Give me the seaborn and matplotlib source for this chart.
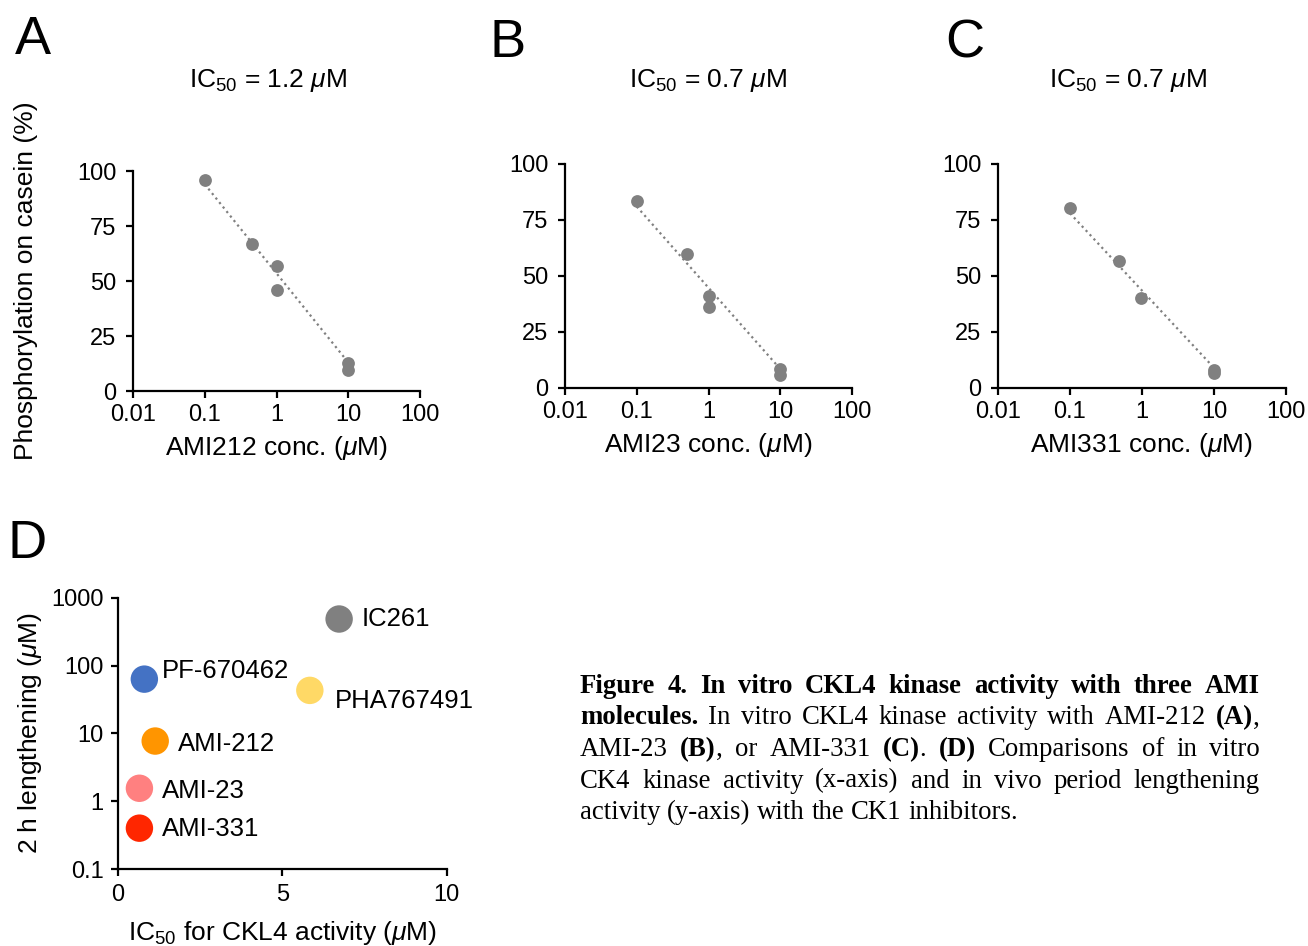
import numpy as np
import pandas as pd
import matplotlib
matplotlib.use("Agg")
import matplotlib.pyplot as plt
from matplotlib.ticker import NullLocator
import seaborn as sns

# ---------------- data ----------------
conc_A = [0.1, 0.46, 1, 1, 10, 10]
phos_A = [96, 67, 57, 46, 12.6, 9.5]
conc_B = [0.1, 0.5, 1, 1, 10, 10]
phos_B = [83.7, 59.9, 41, 36, 8.7, 6.0]
conc_C = [0.1, 0.48, 0.97, 10, 10]
phos_C = [80.5, 56.6, 40, 8.2, 6.7]
trend_x = [0.1, 10]
trend_A = [94, 13]
trend_B = [81, 8.5]
trend_C = [78, 9]
ic50_values = ["1.2", "0.7", "0.7"]
compounds = ["AMI212", "AMI23", "AMI331"]
panel_letters = ["A", "B", "C", "D"]
conc_ticks = [0.01, 0.1, 1, 10, 100]
conc_tick_labels = ["0.01", "0.1", "1", "10", "100"]
phos_ticks = [0, 25, 50, 75, 100]

inhibitors = ["IC261", "PF-670462", "PHA767491", "AMI-212", "AMI-23", "AMI-331"]
ic50_ckl4 = [6.73, 0.81, 5.84, 1.14, 0.66, 0.66]
lengthening = [485, 63, 43, 7.7, 1.55, 0.40]
inhibitor_colors = ["#808080", "#4472C4", "#FFD966", "#FF9500", "#FF8080", "#FF2600"]
d_yticks = [0.1, 1, 10, 100, 1000]
d_ytick_labels = ["0.1", "1", "10", "100", "1000"]
d_xticks = [0, 5, 10]

caption_lines = [
    "*Figure* *4.* *In* *vitro* *CKL4* *kinase* *activity* *with* *three* *AMI*",
    "*molecules.* In vitro CKL4 kinase activity with AMI-212 *(A)*,",
    "AMI-23 *(B)*, or AMI-331 *(C)*. *(D)* Comparisons of in vitro",
    "CK4 kinase activity (x-axis) and in vivo period lengthening",
    "activity (y-axis) with the CK1 inhibitors.",
]

# ---------------- style ----------------
sns.set_theme(style="ticks")
plt.rcParams["font.family"] = ["Liberation Sans", "DejaVu Sans"]
plt.rcParams["mathtext.fontset"] = "custom"
plt.rcParams["mathtext.rm"] = "Liberation Sans"
plt.rcParams["mathtext.it"] = "Liberation Sans:italic"
plt.rcParams["mathtext.bf"] = "Liberation Sans:bold"
plt.rcParams["text.color"] = "black"
plt.rcParams["axes.labelcolor"] = "black"
plt.rcParams["xtick.color"] = "black"
plt.rcParams["ytick.color"] = "black"

W, H = 1308, 946
fig = plt.figure(figsize=(W / 100, H / 100), dpi=100)
fig.patch.set_facecolor("white")

TICK = 17
LABEL = 19
GRAY = "#808080"


def ax_at(l, t, r, b):
    return fig.add_axes([l / W, 1 - b / H, (r - l) / W, (b - t) / H])


def style_ax(ax):
    for s in ["top", "right"]:
        ax.spines[s].set_visible(False)
    for s in ["left", "bottom"]:
        ax.spines[s].set_linewidth(1.6)
        ax.spines[s].set_color("black")
    ax.tick_params(axis="both", which="major", direction="out", length=5,
                   width=1.6, color="black", labelsize=TICK, labelcolor="black")
    ax.tick_params(axis="x", pad=4)
    ax.tick_params(axis="y", pad=7)
    ax.set_facecolor("white")
    ax.grid(False)


boxes = [(133, 171, 420, 391), (565, 164, 852, 388), (998, 164, 1286, 388)]
concs = [conc_A, conc_B, conc_C]
phos = [phos_A, phos_B, phos_C]
trends = [trend_A, trend_B, trend_C]
title_x = [268, 708, 1128]
letter_pos = [(15, 54), (490, 57), (945, 57)]

for i in range(3):
    ax = ax_at(*boxes[i])
    style_ax(ax)
    sns.lineplot(x=trend_x, y=trends[i], ax=ax, color=GRAY, linewidth=1.6,
                 linestyle=(0, (1, 1.6)), zorder=2)
    sns.scatterplot(x=concs[i], y=phos[i], ax=ax, color=GRAY, s=85,
                    linewidth=0, zorder=3, clip_on=False)
    ax.set_xscale("log")
    ax.set_xlim(0.01, 100)
    ax.set_ylim(0, 100)
    ax.set_xticks(conc_ticks)
    ax.set_xticklabels(conc_tick_labels)
    ax.xaxis.set_minor_locator(NullLocator())
    ax.set_yticks(phos_ticks)
    ax.set_yticklabels([str(v) for v in phos_ticks])
    ax.set_xlabel(compounds[i] + r" conc. ($\mu$M)", fontsize=LABEL, labelpad=6)
    if i == 0:
        ax.set_ylabel("Phosphorylation on casein (%)", fontsize=LABEL, labelpad=28)
    else:
        ax.set_ylabel("")
    fig.text(title_x[i] / W, 1 - 87 / H, r"IC$_{50}$ = " + ic50_values[i] + r" $\mu$M",
             fontsize=LABEL, ha="center", va="baseline")
    lx, ly = letter_pos[i]
    fig.text(lx / W, 1 - ly / H, panel_letters[i], fontsize=39, ha="left", va="baseline")

# ---------------- panel D ----------------
axd = ax_at(117.7, 597.7, 446.7, 869)
style_ax(axd)
dfd = pd.DataFrame({"ic50": ic50_ckl4, "len": lengthening, "name": inhibitors})
sns.scatterplot(data=dfd, x="ic50", y="len", hue="name",
                palette=dict(zip(inhibitors, inhibitor_colors)), s=390,
                linewidth=0, legend=False, ax=axd, clip_on=False, zorder=3)
axd.set_yscale("log")
axd.set_ylim(0.1, 1000)
axd.set_xlim(0, 10)
axd.set_yticks(d_yticks)
axd.set_yticklabels(d_ytick_labels)
axd.yaxis.set_minor_locator(NullLocator())
axd.set_xticks(d_xticks)
axd.set_xticklabels([str(v) for v in d_xticks])
axd.tick_params(axis="y", pad=5)
axd.tick_params(axis="x", pad=6)
axd.set_xlabel(r"IC$_{50}$ for CKL4 activity ($\mu$M)", fontsize=LABEL, labelpad=9)
axd.set_ylabel(r"2 h lengthening ($\mu$M)", fontsize=LABEL, labelpad=5)

label_offsets = {"IC261": (16, 1.5), "PF-670462": (12.5, 8), "PHA767491": (18, -6),
                 "AMI-212": (16.3, 0), "AMI-23": (16.3, 0), "AMI-331": (16.3, 1.2)}
for name, xv, yv in zip(inhibitors, ic50_ckl4, lengthening):
    axd.annotate(name, (xv, yv), xytext=label_offsets[name], textcoords="offset points",
                 ha="left", va="center_baseline", fontsize=18.5)

fig.text(8 / W, 1 - 558 / H, panel_letters[3], fontsize=39, ha="left", va="baseline")

# ---------------- caption (justified) ----------------
renderer = fig.canvas.get_renderer()
CAP = 19.3
SERIF = ["Liberation Serif", "DejaVu Serif"]


def text_width(s, bold):
    t = fig.text(0, 0, s, fontsize=CAP, family=SERIF, weight="bold" if bold else "normal")
    w = t.get_window_extent(renderer).width
    t.remove()
    return w


def parse_word(word):
    parts = word.split("*")
    return [(p, j % 2 == 1) for j, p in enumerate(parts) if p]


space_w = text_width("a a", False) - text_width("aa", False)
x0, x1 = 580, 1260
y0, dy = 693, 31.5
for li, line in enumerate(caption_lines):
    words = [parse_word(w) for w in line.split(" ")]
    widths = [[text_width(s, b) for s, b in wd] for wd in words]
    total = sum(sum(w) for w in widths)
    justify = li < len(caption_lines) - 1
    gap = (x1 - x0 - total) / (len(words) - 1) if justify else space_w
    x = x0
    y = y0 + li * dy
    for wd, ws in zip(words, widths):
        for (s, b), w in zip(wd, ws):
            fig.text(x / W, 1 - y / H, s, fontsize=CAP, family=SERIF, color="black",
                     weight="bold" if b else "normal", ha="left", va="baseline")
            x += w
        x += gap

fig.savefig("out.png", dpi=100, facecolor="white")
